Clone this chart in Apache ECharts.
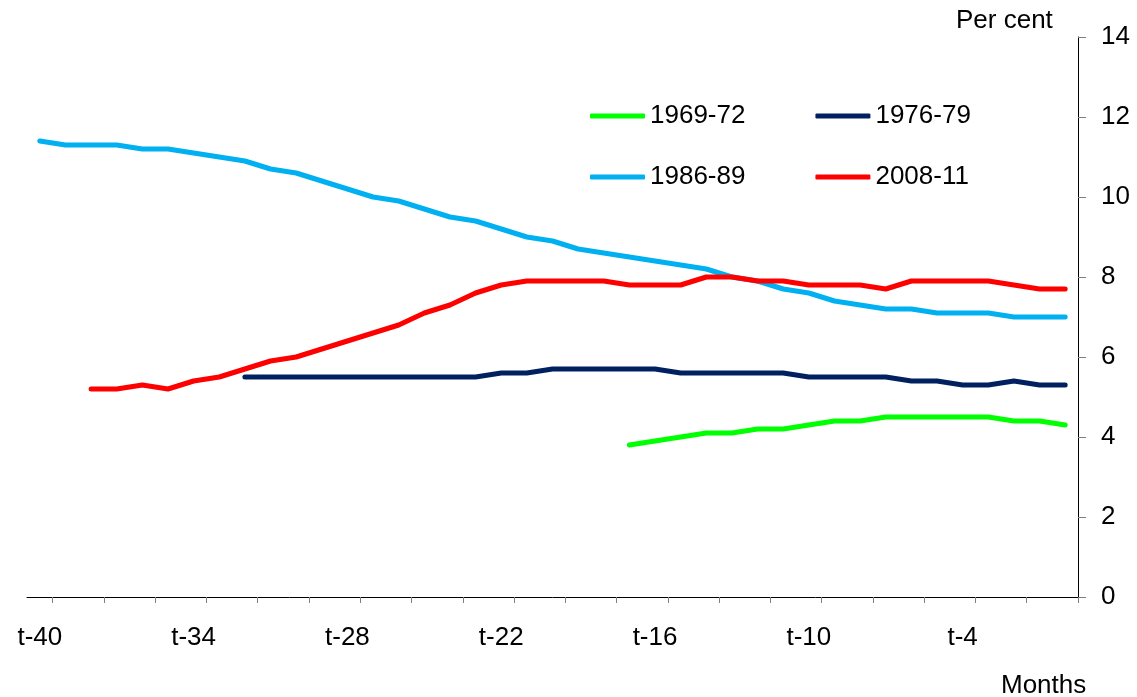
<!DOCTYPE html>
<html>
<head>
<meta charset="utf-8">
<script src="https://cdn.jsdelivr.net/npm/echarts@6/dist/echarts.min.js"></script>
<style>
html,body{margin:0;padding:0;background:#fff;}
#c{width:1137px;height:697px;}
</style>
</head>
<body>
<div id="c"></div>
<script>
// Categories: months before end of period
const categories = [];
for (let k = 40; k >= 1; k--) categories.push('t-' + k);
categories.push('t');

const xTickLabels = ['t-40','t-34','t-28','t-22','t-16','t-10','t-4'];
const yTicks = [0, 2, 4, 6, 8, 10, 12, 14];

const names = ['1969-72', '1976-79', '1986-89', '2008-11'];

const s1969 = [
  null,null,null,null,null,null,null,null,null,null,
  null,null,null,null,null,null,null,null,null,null,
  null,null,null,
  3.8, 3.9, 4.0, 4.1, 4.1, 4.2, 4.2, 4.3, 4.4, 4.4, 4.5, 4.5, 4.5, 4.5, 4.5, 4.4, 4.4, 4.3
];
const s1976 = [
  null,null,null,null,null,null,null,null,
  5.5, 5.5, 5.5, 5.5, 5.5, 5.5, 5.5, 5.5, 5.5, 5.5,
  5.6, 5.6, 5.7, 5.7, 5.7, 5.7, 5.7, 5.6, 5.6, 5.6, 5.6, 5.6,
  5.5, 5.5, 5.5, 5.5, 5.4, 5.4, 5.3, 5.3, 5.4, 5.3, 5.3
];
const s1986 = [
  11.4, 11.3, 11.3, 11.3, 11.2, 11.2, 11.1, 11.0, 10.9, 10.7,
  10.6, 10.4, 10.2, 10.0, 9.9, 9.7, 9.5, 9.4, 9.2, 9.0,
  8.9, 8.7, 8.6, 8.5, 8.4, 8.3, 8.2, 8.0, 7.9, 7.7,
  7.6, 7.4, 7.3, 7.2, 7.2, 7.1, 7.1, 7.1, 7.0, 7.0, 7.0
];
const s2008 = [
  null, null, 5.2, 5.2, 5.3, 5.2, 5.4, 5.5, 5.7, 5.9,
  6.0, 6.2, 6.4, 6.6, 6.8, 7.1, 7.3, 7.6, 7.8, 7.9,
  7.9, 7.9, 7.9, 7.8, 7.8, 7.8, 8.0, 8.0, 7.9, 7.9,
  7.8, 7.8, 7.8, 7.7, 7.9, 7.9, 7.9, 7.9, 7.8, 7.7, 7.7
];

const colors = ['#00FF00', '#002060', '#00B0F0', '#FF0000'];
const FONT = 'Liberation Sans, Arial, sans-serif';

const chart = echarts.init(document.getElementById('c'), null, {renderer: 'canvas'});

function mkSeries(name, data, color) {
  return {
    name: name, type: 'line', data: data,
    symbol: 'none', smooth: false, connectNulls: false,
    lineStyle: {color: color, width: 5, cap: 'round', join: 'round'},
    itemStyle: {color: color},
    animation: false
  };
}

const legendCommon = {
  orient: 'horizontal',
  icon: 'roundRect',
  itemWidth: 55,
  itemHeight: 5,
  itemGap: 70,
  textStyle: {fontSize: 26, color: '#000', fontFamily: FONT},
  selectedMode: false
};

chart.setOption({
  backgroundColor: '#fff',
  animation: false,
  grid: {left: 27, right: 59, top: 37, bottom: 100, containLabel: false},
  legend: [
    Object.assign({}, legendCommon, {data: [names[0], names[1]], left: 585, top: 98}),
    Object.assign({}, legendCommon, {data: [names[2], names[3]], left: 585, top: 159})
  ],
  xAxis: {
    type: 'category',
    data: categories,
    boundaryGap: true,
    axisLine: {lineStyle: {color: '#000', width: 1}},
    axisTick: {
      show: true, length: 6,
      interval: function (index) { return index % 2 === 1; },
      lineStyle: {color: '#808080', width: 1}
    },
    axisLabel: {
      interval: 0,
      margin: 28,
      fontSize: 26, color: '#000', fontFamily: FONT,
      formatter: function (v) { return xTickLabels.indexOf(v) >= 0 ? v : ''; }
    },
    splitLine: {show: false}
  },
  yAxis: {
    type: 'value',
    position: 'right',
    min: yTicks[0], max: yTicks[yTicks.length - 1], interval: 2,
    axisLine: {show: true, lineStyle: {color: '#000', width: 1}},
    axisTick: {show: true, length: 8, lineStyle: {color: '#808080', width: 1}},
    axisLabel: {margin: 23, fontSize: 26, color: '#000', fontFamily: FONT},
    splitLine: {show: false}
  },
  graphic: [
    {type: 'text', left: 956, top: 8, style: {text: 'Per cent', fontSize: 26, fill: '#000', fontFamily: FONT}},
    {type: 'text', left: 1001, top: 673, style: {text: 'Months', fontSize: 26, fill: '#000', fontFamily: FONT}}
  ],
  series: [
    mkSeries(names[0], s1969, colors[0]),
    mkSeries(names[1], s1976, colors[1]),
    mkSeries(names[2], s1986, colors[2]),
    mkSeries(names[3], s2008, colors[3])
  ]
});
</script>
</body>
</html>
